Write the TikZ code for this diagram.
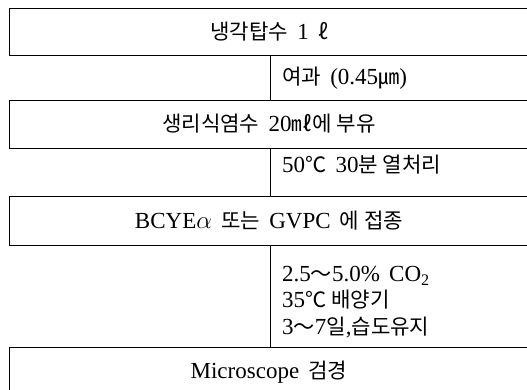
\documentclass[tikz,border=0pt]{standalone}
\usepackage{fontspec}
\setmainfont{Liberation Serif}[WordSpace=1.6]
\newfontfamily\kr{Noto Sans CJK KR}[Scale=0.92]
\newcommand\K[1]{{\kr #1}}
\begin{document}
\begin{tikzpicture}[x=1pt,y=-1pt,
  box/.style={draw, line width=0.8pt, minimum width=520pt, inner sep=0pt},
  lbl/.style={anchor=west, inner sep=0pt, align=left},
  link/.style={line width=0.8pt},
  every node/.style={font=\fontsize{23}{26.5}\selectfont}]
\useasboundingbox (0,0) rectangle (527,390);
\clip (0,0) rectangle (527,390);
\node[box, minimum height=47pt] (b1) at (269,31.5) {\K{냉각탑수} 1 \K{ℓ}};
\node[box, minimum height=48pt] (b2) at (269,124) {\K{생리식염수} 20\K{㎖에 부유}};
\node[box, minimum height=49pt] (b3) at (269,220.5) {BCYE$\alpha$ \K{또는} GVPC \K{에 접종}};
\node[box, minimum height=50pt] (b4) at (269,372) {Microscope \K{검경}};
\draw[link] ([xshift=1pt]b1.south) -- ([xshift=1pt]b2.north);
\draw[link] ([xshift=1pt]b2.south) -- ([xshift=1pt]b3.north);
\draw[link] ([xshift=1pt]b3.south) -- ([xshift=1pt]b4.north);
\node[lbl] (l1) at (282,78) {\K{여과} (0.45\K{㎛})};
\node[lbl] (l2) at (282,165) {50\K{℃} 30\K{분 열처리}};
\node[lbl] (l3) at (282,302) {2.5\K{～}5.0\% CO\textsubscript{2}\\35\K{℃ 배양기}\\3\K{～}7\K{일},\K{습도유지}};
\end{tikzpicture}
\end{document}
